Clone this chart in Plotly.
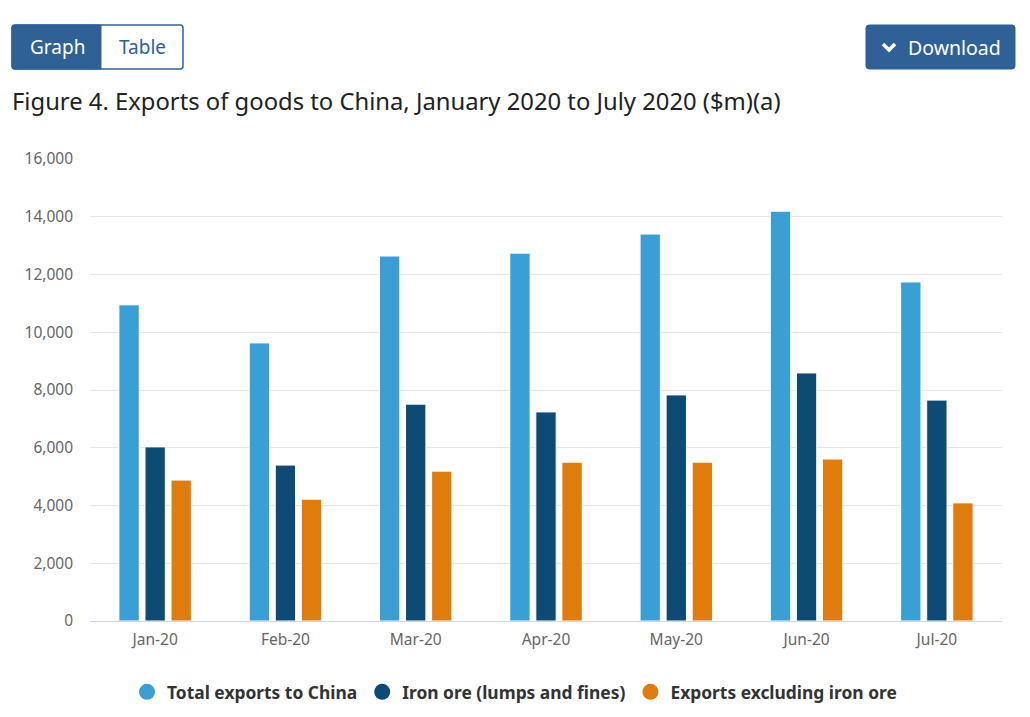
import plotly.graph_objects as go

months = ["Jan-20", "Feb-20", "Mar-20", "Apr-20", "May-20", "Jun-20", "Jul-20"]
total_exports = [10950, 9630, 12640, 12740, 13400, 14190, 11740]
iron_ore = [6030, 5400, 7510, 7240, 7830, 8590, 7650]
excl_iron_ore = [4880, 4220, 5190, 5500, 5500, 5610, 4090]

series_names = ["Total exports to China", "Iron ore (lumps and fines)", "Exports excluding iron ore"]
series_colors = ["#3A9FD4", "#0D4A74", "#E07C0C"]

# page body has an 8px margin; work in reference (window) pixel coords and offset
OFF = 8
W, H = 1030 - OFF, 717 - 2 * OFF
PL, PR, PT, PB = 90, 1002, 159, 621  # plot area in window coords
ML, MT = PL - OFF, PT - OFF
MR = W - (PR - OFF)
MB = H - (PB - OFF)
PW, PH = PR - PL, PB - PT


def px(x):
    return (x - PL) / PW


def py(y):
    return (PB - y) / PH


def rrect(x0, y0, x1, y1, r, tl=True, tr=True, br=True, bl=True):
    def P(x, y):
        return f"{px(x):.5f},{py(y):.5f}"
    rtl = r if tl else 0
    rtr = r if tr else 0
    rbr = r if br else 0
    rbl = r if bl else 0
    d = f"M {P(x0 + rtl, y0)} L {P(x1 - rtr, y0)} Q {P(x1, y0)} {P(x1, y0 + rtr)} "
    d += f"L {P(x1, y1 - rbr)} Q {P(x1, y1)} {P(x1 - rbr, y1)} "
    d += f"L {P(x0 + rbl, y1)} Q {P(x0, y1)} {P(x0, y1 - rbl)} "
    d += f"L {P(x0, y0 + rtl)} Q {P(x0, y0)} {P(x0 + rtl, y0)} Z"
    return d


fig = go.Figure()
for name, vals, col in zip(series_names, [total_exports, iron_ore, excl_iron_ore], series_colors):
    fig.add_trace(go.Bar(x=months, y=vals, name=name, marker=dict(color=col, line=dict(color="white", width=1)),
                         showlegend=False))
    fig.add_trace(go.Scatter(x=[None], y=[None], mode="markers", name=name,
                             marker=dict(color=col, size=17, symbol="circle")))

btn_blue = "#2F6197"
shapes = [
    dict(type="path", xref="paper", yref="paper", path=rrect(12, 25, 183, 69, 3),
         fillcolor="white", line=dict(color=btn_blue, width=1.5), layer="above"),
    dict(type="path", xref="paper", yref="paper", path=rrect(12, 25, 101, 69, 3, tr=False, br=False),
         fillcolor=btn_blue, line=dict(color=btn_blue, width=1), layer="above"),
    dict(type="path", xref="paper", yref="paper", path=rrect(866, 25, 1015, 69, 3),
         fillcolor=btn_blue, line=dict(color=btn_blue, width=1), layer="above"),
    dict(type="path", xref="paper", yref="paper",
         path=f"M {px(883):.5f},{py(44):.5f} L {px(889):.5f},{py(50):.5f} L {px(895):.5f},{py(44):.5f}",
         line=dict(color="white", width=3.5), layer="above"),
]

ann_font = "Noto Sans"
annotations = [
    dict(text="Graph", x=px(57), y=py(47), xref="paper", yref="paper", showarrow=False,
         xanchor="center", yanchor="middle", font=dict(family=ann_font, size=19, color="white")),
    dict(text="Table", x=px(142), y=py(47), xref="paper", yref="paper", showarrow=False,
         xanchor="center", yanchor="middle", font=dict(family=ann_font, size=19, color=btn_blue)),
    dict(text="Download", x=px(954), y=py(47), xref="paper", yref="paper", showarrow=False,
         xanchor="center", yanchor="middle", font=dict(family=ann_font, size=19.5, color="white")),
    dict(text="Figure 4. Exports of goods to China, January 2020 to July 2020 ($m)(a)", x=px(10), y=py(101),
         xref="paper", yref="paper", showarrow=False, xanchor="left", yanchor="middle",
         font=dict(family=ann_font, size=23.8, color="#222222")),
]

fig.update_layout(
    width=W, height=H,
    margin=dict(l=ML, r=MR, t=MT, b=MB, pad=0, autoexpand=False),
    paper_bgcolor="white", plot_bgcolor="white",
    barmode="group", bargap=0.4, bargroupgap=0.22,
    font=dict(family=ann_font, color="#666666"),
    shapes=shapes, annotations=annotations,
    legend=dict(orientation="h", x=px(514.5), xanchor="center", y=py(692), yanchor="middle",
                font=dict(family=ann_font, size=17.4, color="#333333", weight="bold"),
                itemwidth=30, tracegroupgap=0),
    xaxis=dict(showgrid=False, showline=True, linecolor="#CCD6EB", linewidth=1,
               tickfont=dict(size=15.5, color="#666666"), ticks="", ticklabelstandoff=4, fixedrange=True),
    yaxis=dict(range=[0, 16000], dtick=2000, tickformat=",", showgrid=True, gridcolor="#E6E6E6",
               gridwidth=1, zeroline=False, tickfont=dict(size=15.5, color="#666666"),
               ticklabelstandoff=16, fixedrange=True),
)

fig.write_html("out.html")
